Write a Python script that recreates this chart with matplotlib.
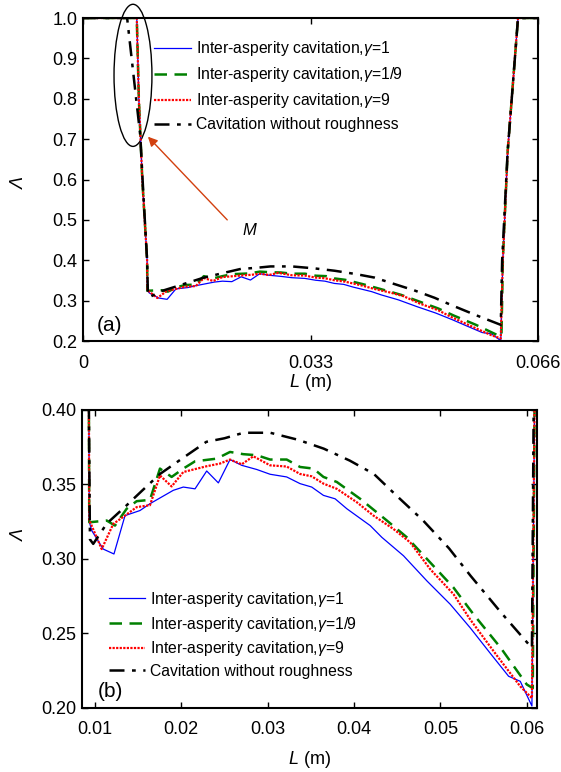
import numpy as np
import matplotlib
matplotlib.use('Agg')
import matplotlib.pyplot as plt
import matplotlib.ticker as ticker
from matplotlib.patches import Ellipse

plt.rcParams['font.family'] = ['Liberation Sans', 'DejaVu Sans']
plt.rcParams['mathtext.fontset'] = 'custom'
plt.rcParams['mathtext.rm'] = 'Liberation Sans'
plt.rcParams['mathtext.it'] = 'Liberation Sans:italic'

# ---- data ----
# inter-asperity cavitation, gamma = 1
L_g1 = [0.0, 0.0078, 0.0081, 0.0086, 0.0093, 0.00934, 0.00962, 0.01096, 0.0122, 0.01348,
        0.01521, 0.01637, 0.01907, 0.02023, 0.02159, 0.02294, 0.02429, 0.02564, 0.027,
        0.02874, 0.03028, 0.0322, 0.03375, 0.0351, 0.03646, 0.03781, 0.03917, 0.04187,
        0.04322, 0.04573, 0.04844, 0.05114, 0.05345, 0.0557, 0.0579, 0.05925, 0.0606,
        0.0609, 0.0616, 0.0631, 0.066]
A_g1 = [1.0, 1.0, 0.80, 0.60, 0.40, 0.325, 0.319, 0.3065, 0.3032, 0.329,
        0.3324, 0.337, 0.346, 0.3482, 0.347, 0.359, 0.351, 0.3667, 0.3628,
        0.360, 0.3568, 0.355, 0.3505, 0.3482, 0.3426, 0.3403, 0.3336, 0.3223,
        0.3144, 0.302, 0.2851, 0.2694, 0.2536, 0.237, 0.221, 0.2176, 0.201,
        0.40, 0.67, 1.0, 1.0]

# gamma = 1/9
L_g19 = [0.0, 0.0078, 0.0081, 0.0086, 0.0093, 0.00934, 0.01136, 0.01232, 0.01367, 0.01483,
         0.01637, 0.01753, 0.01888, 0.02023, 0.02159, 0.0241, 0.02564, 0.02718, 0.02874,
         0.03028, 0.0322, 0.03375, 0.0353, 0.03646, 0.03801, 0.04071, 0.0438, 0.04612,
         0.04882, 0.05152, 0.05384, 0.0570, 0.0600, 0.0607, 0.0609, 0.0616, 0.0631, 0.066]
A_g19 = [1.0, 1.0, 0.80, 0.60, 0.40, 0.3245, 0.3257, 0.3223, 0.3336, 0.3387,
         0.3396, 0.3606, 0.355, 0.3606, 0.3655, 0.3673, 0.3718, 0.3703, 0.3696,
         0.3667, 0.3667, 0.3617, 0.3606, 0.355, 0.3516, 0.3403, 0.3257, 0.3144,
         0.2975, 0.2806, 0.2626, 0.240, 0.2155, 0.213, 0.40, 0.67, 1.0, 1.0]

# gamma = 9
L_g9 = [0.0, 0.0078, 0.0081, 0.0086, 0.0093, 0.00934, 0.01078, 0.01212, 0.01348, 0.01483,
        0.01637, 0.01753, 0.01888, 0.02023, 0.02294, 0.02448, 0.02564, 0.027, 0.02834,
        0.03028, 0.0322, 0.03375, 0.0351, 0.03646, 0.03801, 0.04032, 0.04225, 0.04457,
        0.0465, 0.04882, 0.05152, 0.05345, 0.0564, 0.05925, 0.0606, 0.0609, 0.0616,
        0.0631, 0.066]
A_g9 = [1.0, 1.0, 0.80, 0.60, 0.40, 0.326, 0.3065, 0.3234, 0.329, 0.3347,
        0.336, 0.356, 0.3486, 0.3583, 0.3622, 0.364, 0.3667, 0.3635, 0.3689,
        0.3628, 0.362, 0.357, 0.3554, 0.3505, 0.347, 0.338, 0.329, 0.320,
        0.311, 0.293, 0.2762, 0.2592, 0.236, 0.2142, 0.2063, 0.40, 0.67,
        1.0, 1.0]

# cavitation without roughness
L_nr = [0.0, 0.0064, 0.0083, 0.0088, 0.0093, 0.00942, 0.0098, 0.01136, 0.0135, 0.0155,
        0.01753, 0.0200, 0.0229, 0.0250, 0.0272, 0.0303, 0.0335, 0.0365, 0.0395, 0.0423,
        0.0450, 0.0480, 0.0510, 0.0535, 0.0570, 0.0606, 0.0608, 0.0616, 0.0631, 0.066]
A_nr = [1.0, 1.0, 0.71, 0.55, 0.40, 0.313, 0.310, 0.3236, 0.335, 0.346,
        0.357, 0.367, 0.3786, 0.381, 0.3847, 0.3847, 0.380, 0.374, 0.366, 0.357,
        0.342, 0.3257, 0.307, 0.2885, 0.264, 0.240, 0.40, 0.67, 1.0, 1.0]

labels = [r'Inter-asperity cavitation,$\mathit{\gamma}$=1',
          r'Inter-asperity cavitation,$\mathit{\gamma}$=1/9',
          r'Inter-asperity cavitation,$\mathit{\gamma}$=9',
          'Cavitation without roughness']

styles = [dict(color='#0000ff', lw=0.9, ls='-'),
          dict(color='#008000', lw=1.8, ls=(0, (5, 3))),
          dict(color='#ff0000', lw=1.6, ls=(0, (1, 0.6))),
          dict(color='k', lw=1.8, ls=(0, (6, 3, 1.5, 3)))]

series = [(L_g1, A_g1), (L_g19, A_g19), (L_g9, A_g9), (L_nr, A_nr)]
font = 13

fig = plt.figure(figsize=(5.61, 7.72), dpi=100)
W, H = 561.0, 772.0
ax1 = fig.add_axes([83/W, 1-341/H, 455/W, 323/H])
ax2 = fig.add_axes([82/W, 1-707.5/H, 454.5/W, 297.5/H])


def style_ax(ax):
    plt.setp(ax.spines.values(), linewidth=1.5)
    ax.tick_params(direction='in', length=4.5, width=1, which='major', right=True, top=True,
                   labelsize=font)
    ax.tick_params(axis='x', pad=10)
    ax.tick_params(axis='y', pad=4)


for ax in (ax1, ax2):
    for (x, y), st, lab in zip(series, styles, labels):
        ax.plot(x, y, label=lab, **st)
    style_ax(ax)

# ---- panel (a) ----
ax1.set_xlim(0, 0.066); ax1.set_ylim(0.2, 1.0)
ax1.set_xticks([0, 0.033, 0.066])
ax1.xaxis.set_major_formatter(ticker.FuncFormatter(lambda v, p: '0' if v == 0 else '%g' % v))
ax1.yaxis.set_major_locator(ticker.MultipleLocator(0.1))
ax1.yaxis.set_major_formatter(ticker.FormatStrFormatter('%.1f'))
ax1.set_xlabel(r'$L$ (m)', fontsize=font, labelpad=0)
ax1.set_ylabel('Λ', fontsize=font, fontstyle='italic')
ax1.yaxis.set_label_coords(-0.122, 0.49)
ax1.text(0.03, 0.03, '(a)', transform=ax1.transAxes, fontsize=15)
ax1.legend(loc='upper left', bbox_to_anchor=(0.155, 0.935), frameon=False, fontsize=11.3,
           handlelength=2.4, handletextpad=0.3, labelspacing=0.45, borderpad=0,
           borderaxespad=0)

ell = Ellipse((0.00725, 0.858), 0.0055, 0.352, fill=False, ec='k', lw=1, clip_on=False)
ax1.add_patch(ell)
ax1.annotate('', xy=(0.00914, 0.711), xytext=(0.0212, 0.495),
             arrowprops=dict(arrowstyle='-|>', color='#d2400f', lw=1, mutation_scale=14))
ax1.text(0.0232, 0.462, 'M', fontsize=12, fontstyle='italic')

# ---- panel (b) ----
ax2.set_xlim(0.0085, 0.06113); ax2.set_ylim(0.2, 0.4)
ax2.xaxis.set_major_locator(ticker.MultipleLocator(0.01))
ax2.xaxis.set_major_formatter(ticker.FormatStrFormatter('%.2f'))
ax2.yaxis.set_major_locator(ticker.MultipleLocator(0.05))
ax2.yaxis.set_major_formatter(ticker.FormatStrFormatter('%.2f'))
ax2.set_xlabel(r'$L$ (m)', fontsize=font, labelpad=8)
ax2.set_ylabel('Λ', fontsize=font, fontstyle='italic')
ax2.yaxis.set_label_coords(-0.12, 0.58)
ax2.text(0.035, 0.035, '(b)', transform=ax2.transAxes, fontsize=15)
ax2.legend(loc='upper left', bbox_to_anchor=(0.06, 0.395), frameon=False, fontsize=11.3,
           handlelength=2.3, handletextpad=0.3, labelspacing=0.36, borderpad=0,
           borderaxespad=0)

plt.savefig('out.png', dpi=100)
